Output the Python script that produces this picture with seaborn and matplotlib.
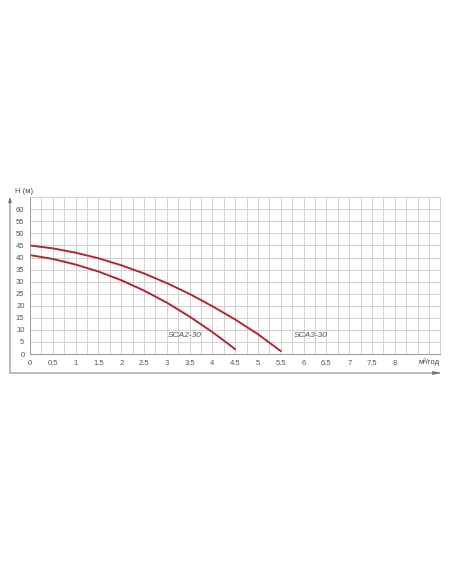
import pandas as pd
import matplotlib.pyplot as plt
import seaborn as sns
from matplotlib.patches import FancyArrowPatch
from matplotlib.ticker import MultipleLocator

# pump curves
q_sca2 = [0, 0.5, 1, 1.5, 2, 2.5, 3, 3.5, 4, 4.5]
h_sca2 = [41, 39.4, 37.1, 34.2, 30.6, 26.3, 21.3, 15.5, 9.1, 2.0]
q_sca3 = [0, 0.5, 1, 1.5, 2, 2.5, 3, 3.5, 4, 4.5, 5, 5.5]
h_sca3 = [45, 43.8, 42.0, 39.7, 36.8, 33.4, 29.4, 24.9, 19.8, 14.3, 8.2, 1.2]

x_ticks = [0, 0.5, 1, 1.5, 2, 2.5, 3, 3.5, 4, 4.5, 5, 5.5, 6, 6.5, 7, 7.5, 8]
y_ticks = [0, 5, 10, 15, 20, 25, 30, 35, 40, 45, 50, 55, 60]

df = pd.concat([
    pd.DataFrame({'Q': q_sca2, 'H': h_sca2, 'model': 'SCA2-30'}),
    pd.DataFrame({'Q': q_sca3, 'H': h_sca3, 'model': 'SCA3-30'}),
])

sns.set_style("white")
plt.rcParams['font.family'] = ['Liberation Sans', 'DejaVu Sans']

fig = plt.figure(figsize=(4.52, 5.84), dpi=100)
ax = fig.add_axes([0.0664, 0.3938, 0.908, 0.2685])

red = '#b32535'
sns.lineplot(data=df, x='Q', y='H', hue='model', palette=[red, red],
             linewidth=1.4, legend=False, ax=ax, sort=False)

ax.set_xlim(0, 9)
ax.set_ylim(0, 65)
ax.xaxis.set_minor_locator(MultipleLocator(0.25))
ax.yaxis.set_minor_locator(MultipleLocator(1))
ax.set_xticks(x_ticks)
ax.set_xticklabels([f'{v:g}' for v in x_ticks])
ax.set_yticks(y_ticks)
ax.grid(True, which='major', color='#d0d0d0', linewidth=0.7)
ax.grid(True, which='minor', axis='x', color='#d0d0d0', linewidth=0.7)
ax.tick_params(axis='both', which='major', labelsize=5.5, colors='#777777',
               length=2, width=0.6, pad=2, labelcolor='#555555')
ax.tick_params(axis='y', which='minor', length=1, width=0.4, colors='#999999')
ax.tick_params(axis='x', which='minor', length=1.5, width=0.4, colors='#999999')
ax.set_xlabel('')
ax.set_ylabel('')
for side in ['top', 'right']:
    ax.spines[side].set_color('#d0d0d0')
    ax.spines[side].set_linewidth(0.7)
for side in ['left', 'bottom']:
    ax.spines[side].set_color('#999999')
    ax.spines[side].set_linewidth(0.7)

ax.text(3.4, 7.6, 'SCA2-30', fontsize=6, style='italic', color='#555555',
        ha='center', va='center')
ax.text(6.15, 7.6, 'SCA3-30', fontsize=6, style='italic', color='#555555',
        ha='center', va='center')

fig.text(15 / 452, 1 - 191.5 / 584, 'H (м)', fontsize=5.5, color='#444444',
         ha='left', va='center')
fig.text(440 / 452, 1 - 362 / 584, 'м³/год', fontsize=5.5, color='#444444',
         ha='right', va='center')

# outer frame with arrows
fx, fy = 10 / 452, 1 - 373 / 584
fig.add_artist(FancyArrowPatch((fx, fy), (fx, 1 - 197 / 584), transform=fig.transFigure,
                               arrowstyle='-|>,head_length=3,head_width=1', color='#777777',
                               linewidth=0.7, shrinkA=0, shrinkB=0))
fig.add_artist(FancyArrowPatch((fx, fy), (442 / 452, fy), transform=fig.transFigure,
                               arrowstyle='-|>,head_length=5,head_width=1', color='#777777',
                               linewidth=0.7, shrinkA=0, shrinkB=0))

fig.savefig('out.png', dpi=100)
